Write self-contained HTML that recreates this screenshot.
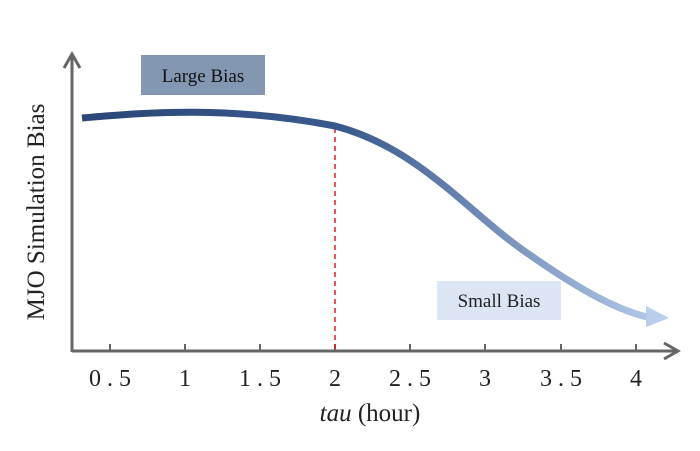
<!DOCTYPE html>
<html><head><meta charset="utf-8"><style>
body{margin:0;background:#fff;}
svg{display:block;font-family:"Liberation Serif",serif;}
</style></head><body>
<svg width="700" height="451" viewBox="0 0 700 451">
<defs>
<linearGradient id="g" x1="82" y1="0" x2="668" y2="0" gradientUnits="userSpaceOnUse">
<stop offset="0" stop-color="#2b4677"/>
<stop offset="0.45" stop-color="#3a5a8e"/>
<stop offset="1" stop-color="#b9cdec"/>
</linearGradient>
</defs>
<line x1="72" y1="352" x2="72" y2="56" stroke="#666" stroke-width="3"/>
<polyline points="64,68 72,54 80,68" fill="none" stroke="#666" stroke-width="3"/>
<line x1="72" y1="351" x2="676" y2="351" stroke="#666" stroke-width="3"/>
<polyline points="664,343 678,351 664,359" fill="none" stroke="#666" stroke-width="3"/>
<g stroke="#666" stroke-width="2">
<line x1="110" y1="351" x2="110" y2="344"/><line x1="185" y1="351" x2="185" y2="344"/>
<line x1="260" y1="351" x2="260" y2="344"/><line x1="335" y1="351" x2="335" y2="344"/>
<line x1="410" y1="351" x2="410" y2="344"/><line x1="485" y1="351" x2="485" y2="344"/>
<line x1="561" y1="351" x2="561" y2="344"/><line x1="636" y1="351" x2="636" y2="344"/>
</g>
<g font-size="24" fill="#222" text-anchor="middle">
<text x="110" y="386">0 . 5</text><text x="185" y="386">1</text>
<text x="260" y="386">1 . 5</text><text x="335" y="386">2</text>
<text x="410" y="386">2 . 5</text><text x="485" y="386">3</text>
<text x="561" y="386">3 . 5</text><text x="636" y="386">4</text>
</g>
<text x="370" y="421" font-size="25" text-anchor="middle" fill="#222"><tspan font-style="italic">tau</tspan> (hour)</text>
<text transform="translate(44,212) rotate(-90)" font-size="25" text-anchor="middle" fill="#222">MJO Simulation Bias</text>
<line x1="335" y1="128" x2="335" y2="351" stroke="#e02020" stroke-width="1.5" stroke-dasharray="5,4"/>
<path d="M82,118 C150,112 230,106 335,126 C420,148 470,215 530,255 C580,290 620,312 652,318" fill="none" stroke="url(#g)" stroke-width="7"/>
<polygon points="646,306 669,318 646,327" fill="#b9cdec"/>
<rect x="141" y="55" width="124" height="40" fill="#8397b3"/>
<text x="203" y="82" font-size="19" text-anchor="middle" fill="#111">Large  Bias</text>
<rect x="437" y="281" width="124" height="39" fill="#dbe5f4"/>
<text x="499" y="307" font-size="19" text-anchor="middle" fill="#222">Small Bias</text>
</svg>
</body></html>
